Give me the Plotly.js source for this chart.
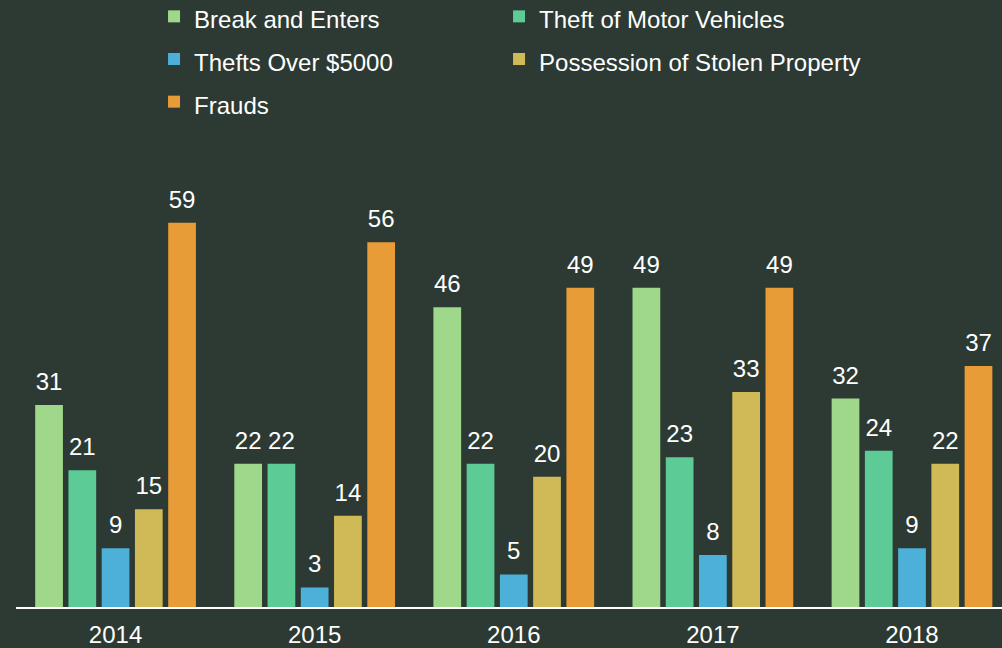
<!DOCTYPE html>
<html>
<head>
<meta charset="utf-8">
<script src="https://cdn.plot.ly/plotly-3.0.1.min.js"></script>
<style>
html,body{margin:0;padding:0;background:#2c3a33;}
#chart{width:1002px;height:648px;}
</style>
</head>
<body>
<div id="chart"></div>
<script>
const years = ["2014", "2015", "2016", "2017", "2018"];
const seriesNames = ["Break and Enters", "Theft of Motor Vehicles", "Thefts Over $5000", "Possession of Stolen Property", "Frauds"];
const breakAndEnters = [31, 22, 46, 49, 32];
const theftOfMotorVehicles = [21, 22, 22, 23, 24];
const theftsOver5000 = [9, 3, 5, 8, 9];
const possessionOfStolenProperty = [15, 14, 20, 33, 22];
const frauds = [59, 56, 49, 49, 37];

const seriesValues = [breakAndEnters, theftOfMotorVehicles, theftsOver5000, possessionOfStolenProperty, frauds];
const colors = ["#a0d88b", "#5ccb96", "#4cb0d8", "#d0ba58", "#e79c38"];
const legendColumn = ["legend", "legend2", "legend", "legend2", "legend"];
const FONT = "Liberation Sans, Arial, sans-serif";

const barTraces = seriesValues.map((vals, i) => ({
  type: "bar",
  name: '<span style="font-size:24px">' + seriesNames[i] + '</span>',
  legend: legendColumn[i],
  x: years,
  y: vals,
  offsetgroup: String(i),
  marker: {color: colors[i], line: {width: 0}},
  hovertemplate: seriesNames[i] + ": %{y}<extra></extra>"
}));

// value labels, grouped like the bars
const labelTraces = seriesValues.map((vals, i) => ({
  type: "scatter",
  mode: "markers+text",
  x: years,
  y: vals,
  offsetgroup: String(i),
  text: vals.map(String),
  textposition: "top center",
  textfont: {color: "#ffffff", size: 24, family: FONT},
  marker: {size: 12.8, opacity: 0, color: colors[i]},
  cliponaxis: false,
  showlegend: false,
  hoverinfo: "skip"
}));

const legendCommon = {
  orientation: "v",
  yanchor: "top",
  y: 1.353,
  xanchor: "left",
  font: {size: 30.5, color: "#ffffff", family: FONT},
  bgcolor: "rgba(0,0,0,0)",
  traceorder: "normal"
};

const layout = {
  width: 1002,
  height: 648,
  paper_bgcolor: "#2c3a33",
  plot_bgcolor: "#2c3a33",
  font: {family: FONT, color: "#ffffff", size: 24},
  margin: {l: 16, r: 0, t: 151, b: 41, pad: 0, autoexpand: false},
  barmode: "group",
  bargap: 0.165,
  bargroupgap: 0.166,
  scattermode: "group",
  scattergap: 0.165,
  showlegend: true,
  legend: Object.assign({}, legendCommon, {x: 0.14}),
  legend2: Object.assign({}, legendCommon, {x: 0.4899}),
  xaxis: {
    type: "category",
    range: [-0.5, 4.452],
    showgrid: false,
    zeroline: false,
    showline: true,
    linecolor: "#ffffff",
    linewidth: 2,
    ticks: "",
    ticklabelstandoff: 5,
    tickfont: {size: 24, color: "#ffffff", family: FONT},
    fixedrange: true
  },
  yaxis: {
    range: [0, 70],
    showgrid: false,
    zeroline: false,
    showline: false,
    showticklabels: false,
    ticks: "",
    fixedrange: true
  }
};

Plotly.newPlot("chart", barTraces.concat(labelTraces), layout, {displayModeBar: false});
</script>
</body>
</html>
